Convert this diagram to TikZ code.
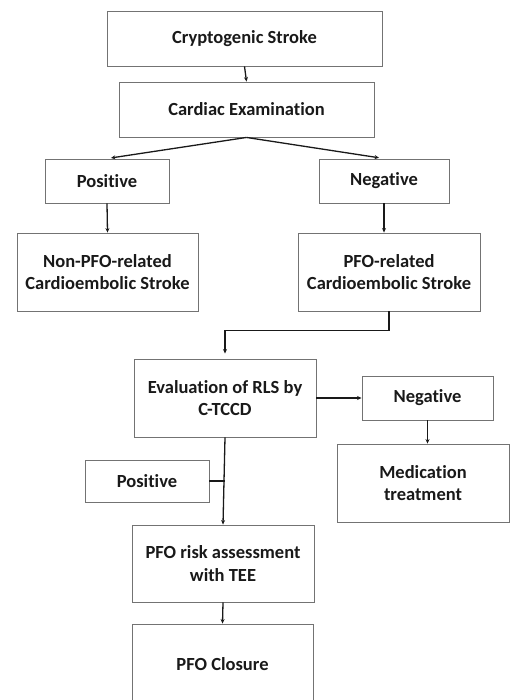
\documentclass[tikz,border=0pt]{standalone}
\usepackage{fontspec}
\setmainfont[Ligatures=CommonOff]{Carlito}
\usetikzlibrary{arrows.meta}

\tikzset{
    box/.style={rectangle, draw=black!55, line width=0.9pt, text centered, align=center, text=black!90, font=\bfseries\fontsize{18.5}{22.5}\selectfont},
    arr/.style={-{Stealth[length=4.5pt,width=4pt]}, line width=1.3pt, black!90}
}

\begin{document}
\begin{tikzpicture}[x=1pt, y=-1pt]
    \useasboundingbox (0,0) rectangle (509,700);
    % top part
    \node (crypto) [box, minimum width=275pt, minimum height=55pt] at (244.5,38.5) {Cryptogenic Stroke};
    \node (cardiac) [box, minimum width=255pt, minimum height=55pt] at (246.5,109.5) {Cardiac Examination};
    \node (pos1) [box, minimum width=124pt, minimum height=44pt] at (107,181) {Positive};
    \node (neg1) [box, minimum width=130pt, minimum height=44pt] at (384,181) {Negative};
    \node (nonpfo) [box, minimum width=181pt, minimum height=78pt] at (107.5,272) {Non-PFO-related\\Cardioembolic Stroke};
    \node (pfo) [box, minimum width=182pt, minimum height=78pt] at (389,272) {PFO-related\\Cardioembolic Stroke};
    % bottom part
    \node (eval) [box, minimum width=182pt, minimum height=78pt] at (225,398) {Evaluation of RLS by\\C-TCCD};
    \node (neg2) [box, minimum width=131pt, minimum height=44pt] at (427.5,398) {Negative};
    \node (med) [box, minimum width=172pt, minimum height=78pt] at (423,483) {Medication\\treatment};
    \node (pos2) [box, minimum width=124pt, minimum height=42pt] at (147,481) {Positive};
    \node (risk) [box, minimum width=182pt, minimum height=77pt] at (223,563.5) {PFO risk assessment\\with TEE};
    \node (closure) [box, minimum width=181pt, minimum height=80pt] at (222.5,664) {PFO Closure};

    \draw[arr] (crypto.south) -- (cardiac.north);
    \draw[arr, shorten >=4pt] (cardiac.south) -- (pos1.north);
    \draw[arr, shorten >=5pt] (cardiac.south) -- (neg1.north);
    \draw[arr] (pos1.south) -- (nonpfo.north);
    \draw[arr] (neg1.south) -- (nonpfo.north -| neg1.south);
    \draw[arr, shorten >=5pt] (pfo.south) -- ++(0,19) -| (eval.north);
    \draw[arr] (eval.east) -- (neg2.west);
    \draw[arr] (neg2.south) -- (neg2.south |- med.north);
    \draw[arr] (eval.south) -- (risk.north);
    \draw[line width=1.3pt, black!90] (pos2.east) -- (pos2.east -| eval.south);
    \draw[arr] (risk.south) -- (closure.north);
\end{tikzpicture}
\end{document}
